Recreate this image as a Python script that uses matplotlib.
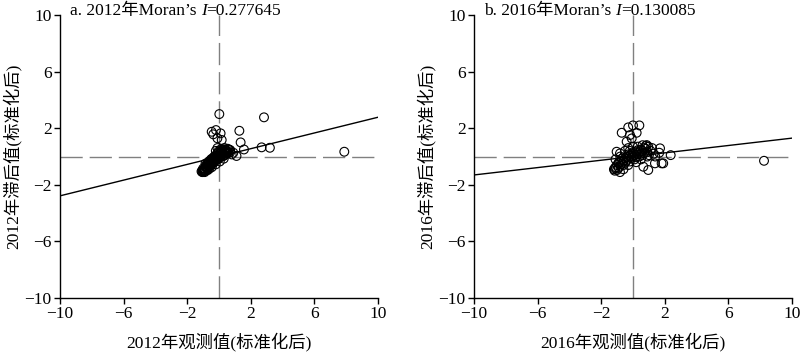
import matplotlib
matplotlib.use("Agg")
import matplotlib.pyplot as plt

# ---------------- data ----------------
ticks = [-10, -6, -2, 2, 6, 10]
titles = ["a. 2012年Moran’s ", "b. 2016年Moran’s "]
moran_i = [0.277645, 0.130085]
xlabels = ["2012年观测值(标准化后)", "2016年观测值(标准化后)"]
ylabels = ["2012年滞后值(标准化后)", "2016年滞后值(标准化后)"]

x2012 = [0.02, 2.83, 1.28, -0.46, -0.19, 0.1, -0.36, -0.1, 0.17, 1.36, 1.57, 2.68, 3.2, 7.88,
         0.69, 0.9, 1.1,
         -1.1, -1.05, -1.0, -0.95, -0.9, -0.85, -0.8, -0.8, -0.75, -0.7, -0.7, -0.65, -0.6, -0.6,
         -0.55, -0.5, -0.5, -0.45, -0.4, -0.4, -0.35, -0.3, -0.3, -0.25, -0.2, -0.2, -0.15, -0.1,
         -0.1, -0.05, 0.0, 0.0, 0.05, 0.1, 0.15, 0.2, 0.25, 0.3, 0.35, 0.4, 0.45, 0.5, 0.55, 0.6,
         0.7, 0.8, -0.2, -0.1, 0.1, -1.05, -1.0, -0.9, -0.95,
         -1.0, -0.85, -0.7, -0.6, -0.5, -0.5, -0.4, -0.3, -0.3, -0.2, -0.1, 0.0, 0.1, 0.2, 0.3,
         0.4, 0.5, 0.6, 0.7, -0.05, 0.2, 0.35, 0.55, -0.6, -0.75, -0.9,
         -0.85, -0.65, -0.45, -0.25, -0.05, 0.15, 0.35, -0.7, -0.45, -0.2, 0.05, 0.3]
y2012 = [3.0, 2.77, 1.82, 1.75, 1.87, 1.64, 1.57, 1.29, 1.17, 1.0, 0.5, 0.65, 0.62, 0.34,
         0.46, 0.27, 0.04,
         -1.05, -1.0, -1.1, -0.95, -0.85, -0.95, -0.75, -0.6, -0.8, -0.65, -0.5, -0.7, -0.55, -0.4,
         -0.6, -0.45, -0.3, -0.5, -0.35, -0.2, -0.4, -0.25, -0.1, -0.3, -0.15, 0.0, -0.2, -0.05,
         0.1, -0.15, 0.05, 0.2, -0.05, 0.1, 0.25, 0.0, 0.15, 0.35, 0.1, 0.25, 0.4, 0.2, 0.35, 0.5,
         0.3, 0.15, 0.4, 0.6, 0.5, -1.1, -0.95, -1.0, -1.05,
         -0.85, -0.7, -0.8, -0.7, -0.6, -0.2, -0.5, -0.4, 0.0, -0.25, -0.2, -0.1, 0.0, 0.2, 0.05,
         0.45, 0.3, 0.25, 0.45, 0.35, 0.45, 0.5, 0.55, -0.85, -0.95, -1.1,
         -0.5, -0.35, -0.15, 0.05, 0.25, 0.45, 0.6, -0.95, -0.75, -0.55, -0.35, -0.15]

x2016 = [-0.3, 0.4, 0.0, -0.71, 0.23, -0.4, -0.08, 0.86, 1.65, 2.37, 1.8, 0.65, -1.03, -1.13, 8.24,
         -1.2, -1.1, -1.0, -1.0, -0.9, -0.9, -0.8, -0.8, -0.7, -0.7, -0.6, -0.6, -0.5, -0.5, -0.4,
         -0.4, -0.3, -0.3, -0.2, -0.2, -0.1, -0.1, 0.0, 0.0, 0.1, 0.1, 0.2, 0.2, 0.3, 0.3, 0.4,
         0.4, 0.5, 0.5, 0.6, 0.6, 0.7, 0.8, 0.9, 1.0, 1.1, 1.3, 1.4, -0.5, -0.3, 0.0, -1.1, 0.7,
         0.8, -0.8,
         -0.19, 0.96, 1.7, 1.9, 1.38, 0.96, -0.82, -0.92, -0.82, -1.15, -0.6, -0.3, 0.2, 0.5, 0.9,
         1.2, -0.2, 0.3, 0.6]
y2016 = [2.06, 2.2, 2.2, 1.68, 1.68, 1.05, 1.28, 0.81, 0.27, 0.1, -0.48, -0.72, 0.34, -0.83, -0.3,
         -0.9, -0.75, -0.95, -0.6, -0.8, -0.45, -0.65, -0.3, -0.5, -0.15, -0.6, -0.3, -0.1, -0.45, 0.0,
         -0.3, -0.15, 0.15, -0.35, 0.05, 0.2, -0.1, 0.0, 0.3, -0.2, 0.1, 0.35, -0.05, 0.15, 0.45, 0.0,
         0.3, 0.5, 0.2, 0.1, 0.4, 0.25, 0.55, 0.3, 0.1, 0.4, 0.2, 0.0, 0.4, 0.6, 0.7, -0.2, 0.6,
         0.75, 0.0,
         1.52, 0.7, 0.58, -0.48, -0.48, -0.95, 0.22, -0.48, -1.1, -1.0, -0.9, -0.6, -0.4, -0.2, 0.0,
         0.6, 0.4, 0.7, 0.8]

xs = [x2012, x2016]
ys = [y2012, y2016]

# ---------------- plot ----------------
SERIF = ['Liberation Serif', 'Noto Sans CJK SC', 'DejaVu Sans']
plt.rcParams['font.family'] = SERIF
FS = 12.5
plt.rcParams['font.size'] = FS

fig = plt.figure(figsize=(8.0, 3.57), dpi=100)
axes_pos = [[0.075, 0.165, 0.3975, 0.793], [0.5925, 0.165, 0.3975, 0.793]]

for k in range(2):
    ax = fig.add_axes(axes_pos[k])
    ax.set_xlim(-10, 10)
    ax.set_ylim(-10, 10)
    ax.axvline(0, color='#808080', lw=1.0, dashes=(16, 5), zorder=1)
    ax.axhline(0, color='#808080', lw=1.0, dashes=(16, 5), zorder=1)
    ax.plot([-10, 10], [-10 * moran_i[k], 10 * moran_i[k]], color='black', lw=1.0, zorder=2)
    ax.scatter(xs[k], ys[k], s=40, facecolors='none', edgecolors='black', linewidths=0.8, zorder=3)
    for s in ['top', 'right']:
        ax.spines[s].set_visible(False)
    for s in ['left', 'bottom']:
        ax.spines[s].set_linewidth(1.0)
    ax.set_xticks(ticks)
    ax.set_yticks(ticks)
    ax.tick_params(direction='out', length=4, width=1.0, labelsize=FS, pad=2)
    ax.set_xlabel(xlabels[k], fontsize=FS, labelpad=7)
    ax.set_ylabel(ylabels[k], fontsize=FS, labelpad=2)
    t1 = ax.text(0.031, 1.0, titles[k], transform=ax.transAxes, ha='left',
                 va='baseline', fontsize=FS)
    t2 = ax.annotate("I", xy=(1, 0), xycoords=t1, ha='left', va='bottom',
                     fontsize=FS, fontstyle='italic')
    ax.annotate("=" + f"{moran_i[k]:.6f}", xy=(1, 0), xycoords=t2, ha='left',
                va='bottom', fontsize=FS)

fig.savefig('out.png', dpi=100)
